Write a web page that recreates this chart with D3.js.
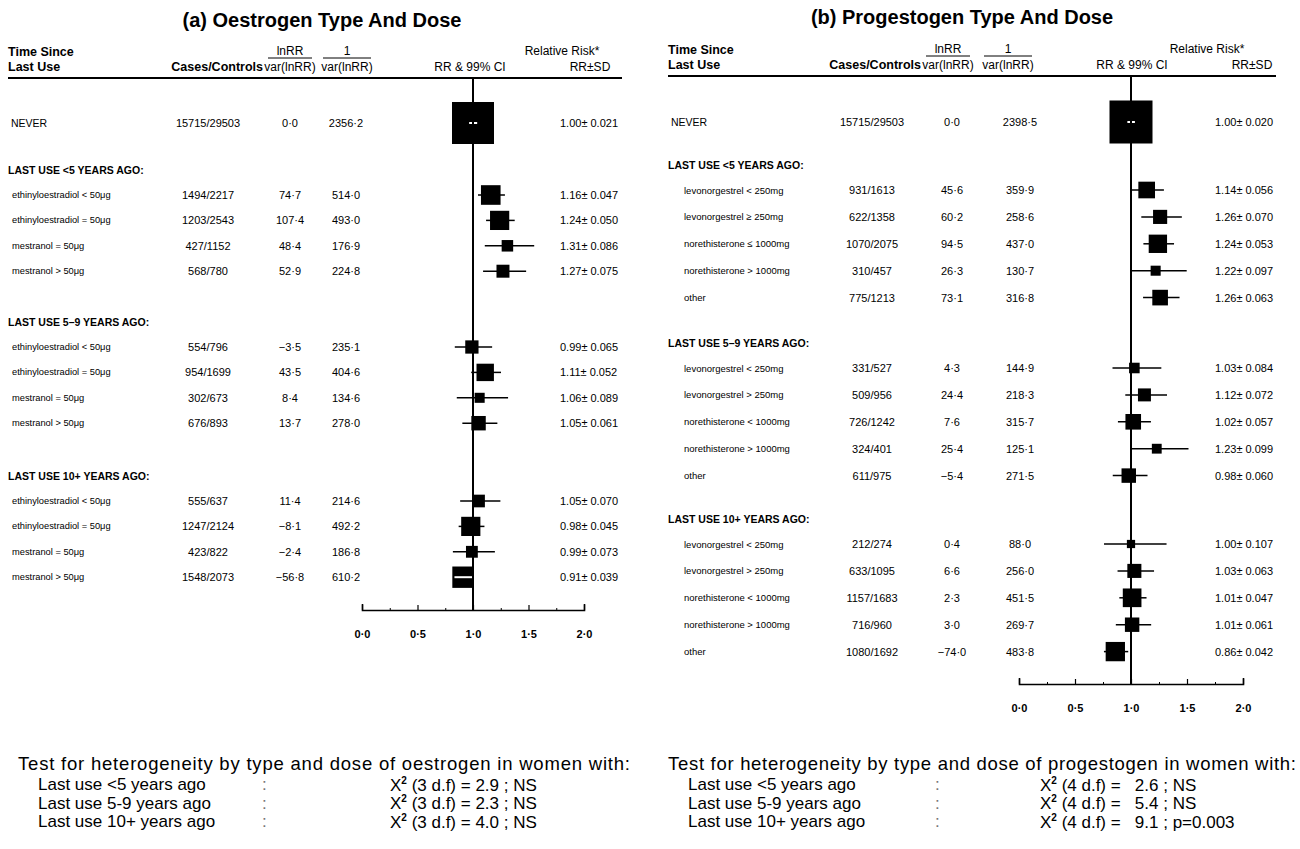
<!DOCTYPE html>
<html><head><meta charset="utf-8">
<script src="https://cdn.jsdelivr.net/npm/d3@7"></script>
<style>
body{margin:0;background:#fff;}
svg{display:block;font-family:"Liberation Sans",Arial,sans-serif;}
</style></head>
<body>
<svg id="chart" width="1300" height="849"></svg>
<script>
// ---------------- DATA ----------------
const groupTitles = ["LAST USE <5 YEARS AGO:", "LAST USE 5\u20139 YEARS AGO:", "LAST USE 10+ YEARS AGO:"];

// (a) oestrogen
const oesNever = {cases: "15715/29503", lnrr: "0·0", invvar: "2356·2", rr: 1.00, sd: 0.021, w: 2356.2};
const oesLabels = [
  "ethinyloestradiol < 50\u03bcg", "ethinyloestradiol = 50\u03bcg", "mestranol = 50\u03bcg", "mestranol > 50\u03bcg",
  "ethinyloestradiol < 50\u03bcg", "ethinyloestradiol = 50\u03bcg", "mestranol = 50\u03bcg", "mestranol > 50\u03bcg",
  "ethinyloestradiol < 50\u03bcg", "ethinyloestradiol = 50\u03bcg", "mestranol = 50\u03bcg", "mestranol > 50\u03bcg"];
const oesGroup = [0,0,0,0, 1,1,1,1, 2,2,2,2];
const oesCases = ["1494/2217","1203/2543","427/1152","568/780", "554/796","954/1699","302/673","676/893", "555/637","1247/2124","423/822","1548/2073"];
const oesLnRR = [74.7, 107.4, 48.4, 52.9, -3.5, 43.5, 8.4, 13.7, 11.4, -8.1, -2.4, -56.8];
const oesInvVar = [514.0, 493.0, 176.9, 224.8, 235.1, 404.6, 134.6, 278.0, 214.6, 492.2, 186.8, 610.2];
const oesRR = [1.16, 1.24, 1.31, 1.27, 0.99, 1.11, 1.06, 1.05, 1.05, 0.98, 0.99, 0.91];
const oesSD = [0.047, 0.050, 0.086, 0.075, 0.065, 0.052, 0.089, 0.061, 0.070, 0.045, 0.073, 0.039];

// (b) progestogen
const proNever = {cases: "15715/29503", lnrr: "0·0", invvar: "2398·5", rr: 1.00, sd: 0.020, w: 2398.5};
const proLabels = [
  "levonorgestrel < 250mg", "levonorgestrel \u2265 250mg", "norethisterone \u2264 1000mg", "norethisterone > 1000mg", "other",
  "levonorgestrel < 250mg", "levonorgestrel > 250mg", "norethisterone < 1000mg", "norethisterone > 1000mg", "other",
  "levonorgestrel < 250mg", "levonorgestrel > 250mg", "norethisterone < 1000mg", "norethisterone > 1000mg", "other"];
const proGroup = [0,0,0,0,0, 1,1,1,1,1, 2,2,2,2,2];
const proCases = ["931/1613","622/1358","1070/2075","310/457","775/1213", "331/527","509/956","726/1242","324/401","611/975", "212/274","633/1095","1157/1683","716/960","1080/1692"];
const proLnRR = [45.6, 60.2, 94.5, 26.3, 73.1, 4.3, 24.4, 7.6, 25.4, -5.4, 0.4, 6.6, 2.3, 3.0, -74.0];
const proInvVar = [359.9, 258.6, 437.0, 130.7, 316.8, 144.9, 218.3, 315.7, 125.1, 271.5, 88.0, 256.0, 451.5, 269.7, 483.8];
const proRR = [1.14, 1.26, 1.24, 1.22, 1.26, 1.03, 1.12, 1.02, 1.23, 0.98, 1.00, 1.03, 1.01, 1.01, 0.86];
const proSD = [0.056, 0.070, 0.053, 0.097, 0.063, 0.084, 0.072, 0.057, 0.099, 0.060, 0.107, 0.063, 0.047, 0.061, 0.042];

const axisTicks = [0, 0.5, 1, 1.5, 2];
const axisTickLabels = ["0·0", "0·5", "1·0", "1·5", "2·0"];
const minorTicks = [0.25, 0.75, 1.25, 1.75];

const oesHet = [["Last use <5 years ago", "3 d.f", "2.9 ; NS"], ["Last use 5-9 years ago", "3 d.f", "2.3 ; NS"], ["Last use 10+ years ago", "3 d.f", "4.0 ; NS"]];
const proHet = [["Last use <5 years ago", "4 d.f", "  2.6 ; NS"], ["Last use 5-9 years ago", "4 d.f", "  5.4 ; NS"], ["Last use 10+ years ago", "4 d.f", "  9.1 ; p=0.003"]];

// ---------------- DRAW ----------------
const svg = d3.select("#chart");
const fmt = v => (v < 0 ? "\u2212" : "") + Math.abs(v).toFixed(1).replace(".", "·");

function panel(cfg) {
  const g = svg.append("g");
  const x = d3.scaleLinear().domain([0, 2]).range(cfg.xRange);
  const perGroup = cfg.labels.length / 3;
  // position within group: 0 = group heading, 1..n = rows
  const yIn = d3.scaleLinear().domain([0, 1, perGroup]).range([0, cfg.firstOff, cfg.firstOff + (perGroup - 1) * cfg.step]);
  const boxSize = w => cfg.neverBox * Math.sqrt(w / cfg.never.w);

  // title
  g.append("text").attr("x", cfg.titleX).attr("y", cfg.titleY).attr("text-anchor", "middle")
    .attr("dominant-baseline", "central").attr("font-size", 20).attr("font-weight", "bold").text(cfg.title);

  // header
  const H = cfg.head;
  const ht = (t, xx, yy, anchor, bold, size) => g.append("text").attr("x", xx).attr("y", yy)
    .attr("text-anchor", anchor).attr("dominant-baseline", "central")
    .attr("font-size", size || 12.5).attr("font-weight", bold ? "bold" : "normal").text(t);
  ht("Time Since", H.left, H.y1 + 1, "start", true);
  ht("Last Use", H.left, H.y2, "start", true);
  ht("Cases/Controls", H.casesEnd, H.y2, "end", true);
  ht("lnRR", H.c1, H.y1, "middle", false, 12);
  ht("var(lnRR)", H.c1, H.y2, "middle", false, 12);
  ht("1", H.c2, H.y1, "middle", false, 12);
  ht("var(lnRR)", H.c2, H.y2, "middle", false, 12);
  g.append("line").attr("x1", H.c1 - 22).attr("x2", H.c1 + 22).attr("y1", H.y1 + 7).attr("y2", H.y1 + 7).attr("stroke", "#000").attr("stroke-width", 1);
  g.append("line").attr("x1", H.c2 - 24).attr("x2", H.c2 + 24).attr("y1", H.y1 + 7).attr("y2", H.y1 + 7).attr("stroke", "#000").attr("stroke-width", 1);
  ht("Relative Risk*", H.rr, H.y1, "middle", false, 12);
  ht("RR & 99% CI", H.ci, H.y2, "middle", false, 12);
  ht("RR\u00b1SD", H.sd, H.y2, "middle", false, 12);
  g.append("line").attr("x1", H.left).attr("x2", H.ruleEnd).attr("y1", cfg.ruleY).attr("y2", cfg.ruleY)
    .attr("stroke", "#000").attr("stroke-width", 2);

  // rows data
  const rows = cfg.labels.map((l, i) => {
    const gi = cfg.group[i], k = i - gi * perGroup + 1;
    return {label: l, cases: cfg.cases[i], lnrr: fmt(cfg.lnrr[i]), invvar: fmt(cfg.invvar[i]),
      rr: cfg.rr[i], sd: cfg.sd[i], w: cfg.invvar[i], y: cfg.groupY[gi] + yIn(k), indent: true};
  });
  rows.unshift(Object.assign({}, cfg.never, {label: "NEVER", y: cfg.neverY, indent: false}));

  // group headers
  groupTitles.forEach((t, gi) => {
    g.append("text").attr("x", H.left).attr("y", cfg.groupY[gi]).attr("dominant-baseline", "central")
      .attr("font-size", 10.5).attr("font-weight", "bold").text(t);
  });

  rows.forEach(r => {
    const tx = (t, xx, anchor, size) => g.append("text").attr("x", xx).attr("y", r.y)
      .attr("text-anchor", anchor).attr("dominant-baseline", "central").attr("font-size", size).text(t);
    tx(r.label, r.indent ? H.left + cfg.indent : H.left + 3, "start", r.indent ? cfg.labelSize : 10.5);
    tx(r.cases, cfg.cols.cases, "middle", 11);
    tx(r.lnrr, cfg.cols.lnrr, "middle", 11);
    tx(r.invvar, cfg.cols.invvar, "middle", 11);
    tx(r.rr.toFixed(2) + "\u00b1 " + r.sd.toFixed(3), cfg.cols.sd, "start", 11);
  });

  // CI lines and boxes
  rows.forEach(r => {
    const se = r.sd / r.rr;
    const lo = r.rr * Math.exp(-2.576 * se), hi = r.rr * Math.exp(2.576 * se);
    const s = boxSize(r.w);
    const cx = x(r.rr);
    const x0 = x(lo), x1 = x(hi);
    const inside = (cx - x0) <= s / 2 + 2 && (x1 - cx) <= s / 2 + 2;
    g.append("rect").attr("x", cx - s / 2).attr("y", r.y - s / 2).attr("width", s).attr("height", s).attr("fill", "#000");
    if (inside) {
      g.append("line").attr("x1", x0 + 2).attr("x2", x1 - 2).attr("y1", r.y).attr("y2", r.y)
        .attr("stroke", "#fff").attr("stroke-width", 2);
    } else {
      g.append("line").attr("x1", x0).attr("x2", x1).attr("y1", r.y).attr("y2", r.y)
        .attr("stroke", "#000").attr("stroke-width", 1.5);
    }
  });

  // reference line at RR = 1
  g.append("line").attr("x1", x(1)).attr("x2", x(1)).attr("y1", cfg.ruleY).attr("y2", cfg.axisY)
    .attr("stroke", "#000").attr("stroke-width", 2);

  // axis
  const ax = g.append("g").attr("transform", `translate(0,${cfg.axisY})`)
    .call(d3.axisBottom(x).tickValues(axisTicks).tickFormat((d, i) => axisTickLabels[i])
      .tickSize(-5).tickSizeOuter(-6).tickPadding(20));
  ax.select(".domain").attr("stroke-width", 1.6);
  ax.selectAll(".tick line").attr("stroke-width", 1.2);
  ax.selectAll(".tick text").attr("font-size", 11).attr("font-weight", "bold").attr("font-family", "Liberation Sans, Arial, sans-serif");
  const mx = g.append("g").attr("transform", `translate(0,${cfg.axisY})`)
    .call(d3.axisBottom(x).tickValues(minorTicks).tickFormat("").tickSize(-2).tickSizeOuter(0));
  mx.select(".domain").remove();

  // heterogeneity text
  const bt = (xx, yy, size) => g.append("text").attr("x", xx).attr("y", yy).attr("dominant-baseline", "central")
    .attr("font-size", size || 17).style("white-space", "pre");
  bt(cfg.het.x, 763, 18.5).attr("textLength", cfg.het.headW).attr("lengthAdjust", "spacing")
    .text("Test for heterogeneity by type and dose of " + cfg.hetWord + " in women with:");
  cfg.hetRows.forEach((h, i) => {
    const yy = 784.5 + i * 18.5;
    bt(cfg.het.x + 20, yy).text(h[0]);
    bt(cfg.het.colon, yy).attr("fill", "#777").text(":");
    const t = bt(cfg.het.chi, yy);
    t.append("tspan").text("X");
    t.append("tspan").attr("dy", -5).attr("font-size", 10).attr("font-weight", "bold").text("2");
    t.append("tspan").attr("dy", 5).text(" (" + h[1] + ") = " + h[2]);
  });
}

panel({
  title: "(a) Oestrogen Type And Dose", titleX: 322, titleY: 20,
  head: {left: 8, casesEnd: 263, c1: 290, c2: 347, rr: 562, ci: 470, sd: 590, ruleEnd: 622, y1: 51, y2: 67},
  ruleY: 78, axisY: 610,
  xRange: [362, 584],
  groupY: [170, 322, 476], firstOff: 25, step: 25.4, neverY: 123, neverBox: 42, indent: 4, labelSize: 9.3,
  cols: {cases: 208, lnrr: 290, invvar: 346, sd: 560},
  never: oesNever, labels: oesLabels, group: oesGroup, cases: oesCases, lnrr: oesLnRR, invvar: oesInvVar, rr: oesRR, sd: oesSD,
  het: {x: 18, colon: 262, chi: 390, headW: 612}, hetWord: "oestrogen", hetRows: oesHet
});

panel({
  title: "(b) Progestogen Type And Dose", titleX: 962, titleY: 17,
  head: {left: 668, casesEnd: 921, c1: 948, c2: 1008, rr: 1207, ci: 1132, sd: 1252, ruleEnd: 1276, y1: 49, y2: 65},
  ruleY: 76, axisY: 684,
  xRange: [1019, 1243],
  groupY: [165, 343, 519], firstOff: 25, step: 26.9, neverY: 122, neverBox: 43, indent: 16, labelSize: 9.5,
  cols: {cases: 872, lnrr: 952, invvar: 1020, sd: 1215},
  never: proNever, labels: proLabels, group: proGroup, cases: proCases, lnrr: proLnRR, invvar: proInvVar, rr: proRR, sd: proSD,
  het: {x: 668, colon: 935, chi: 1040, headW: 628}, hetWord: "progestogen", hetRows: proHet
});
</script>
</body></html>
